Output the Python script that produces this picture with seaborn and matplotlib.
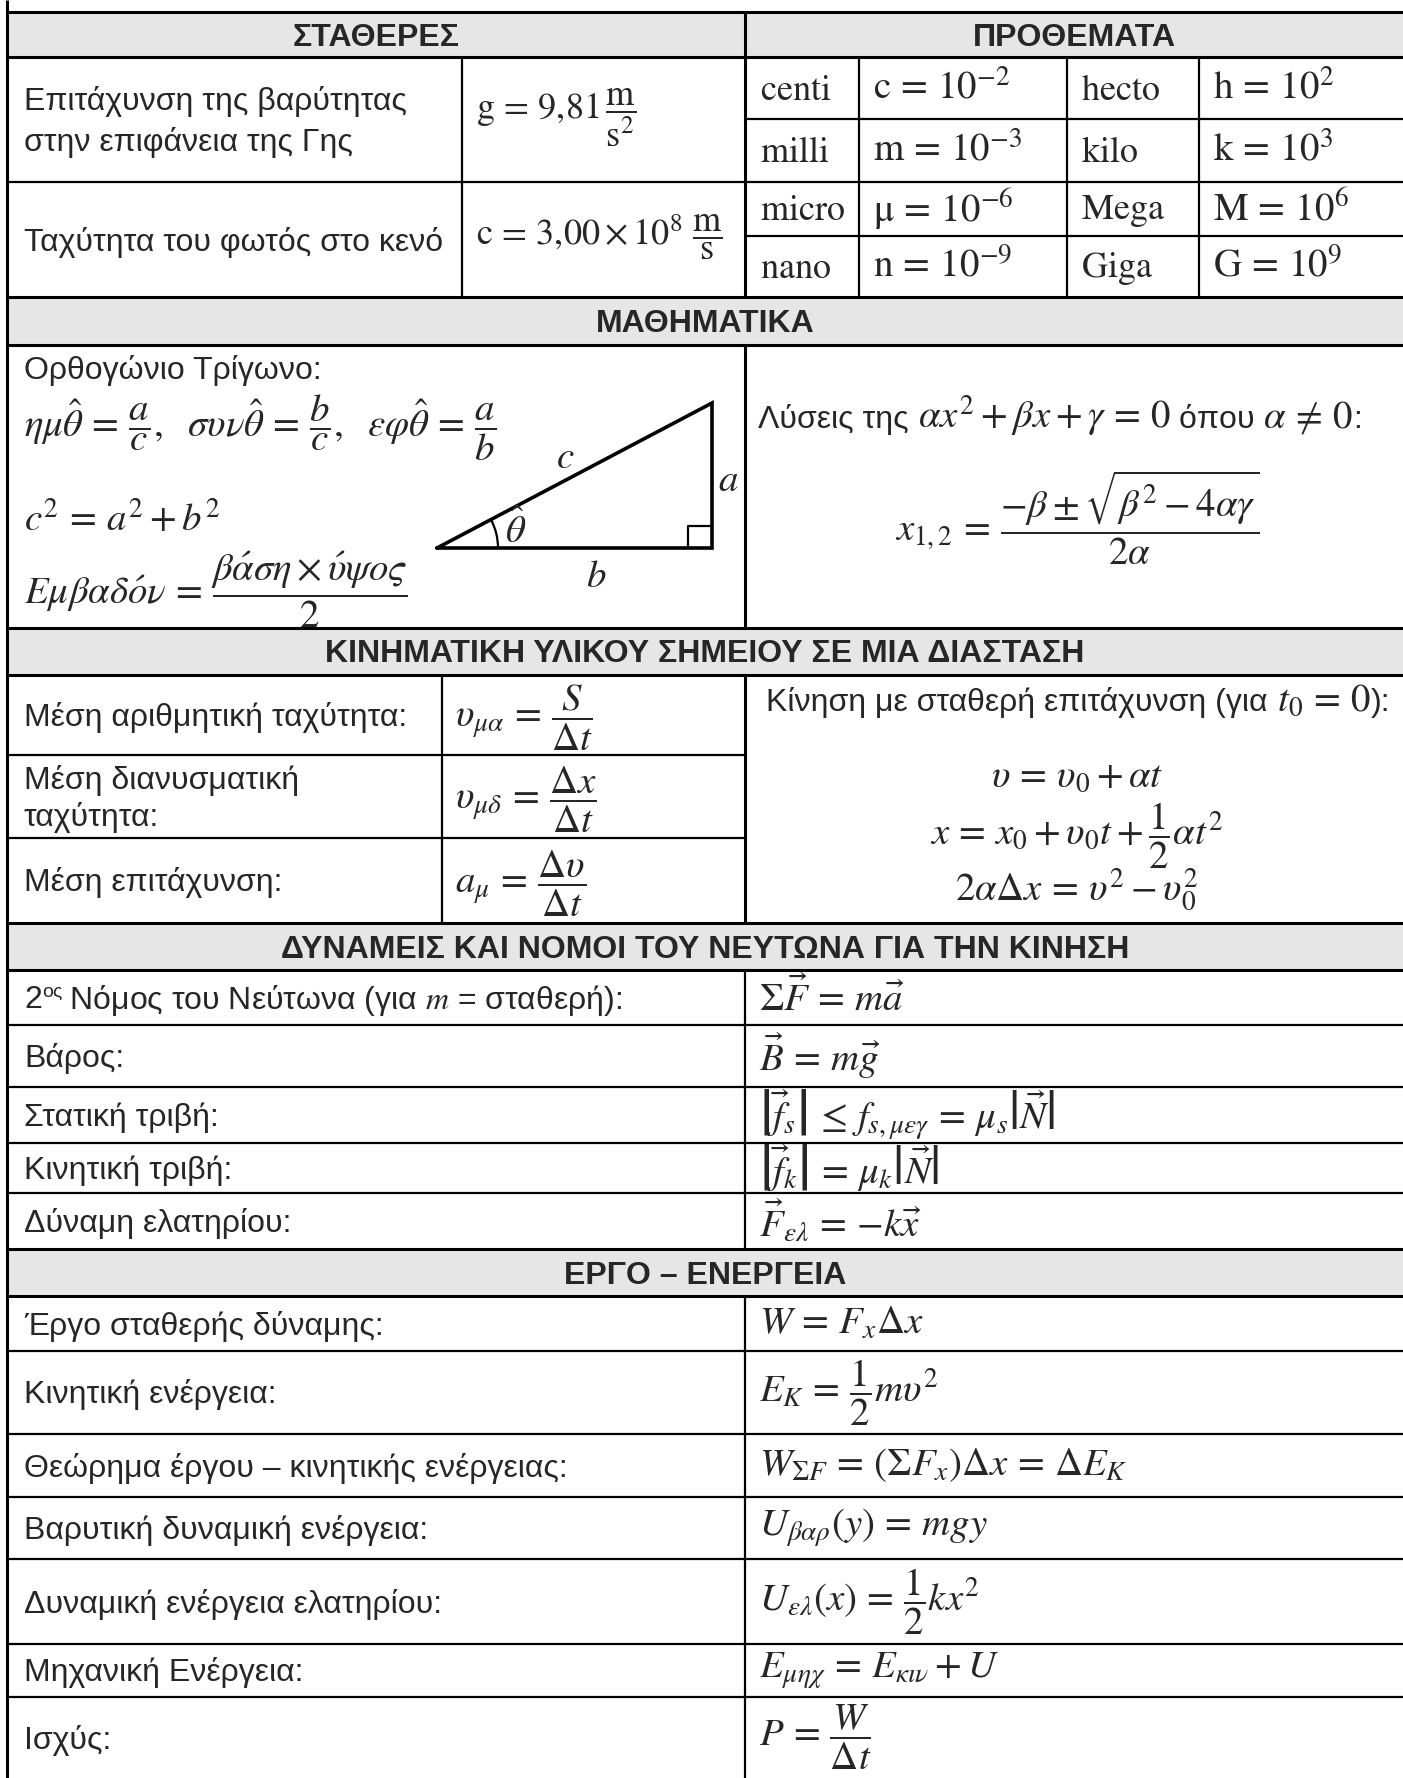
import matplotlib
matplotlib.use('Agg')
import matplotlib.pyplot as plt
from matplotlib.patches import Arc
import seaborn as sns

sns.set_theme(style='white')
plt.rcParams['font.family'] = ['Liberation Sans', 'DejaVu Sans']
plt.rcParams['mathtext.fontset'] = 'stix'

# ---- content of the sheet ----
const_title = 'ΣΤΑΘΕΡΕΣ'
prefix_title = 'ΠΡΟΘΕΜΑΤΑ'
math_title = 'ΜΑΘΗΜΑΤΙΚΑ'
kin_title = 'ΚΙΝΗΜΑΤΙΚΗ ΥΛΙΚΟΥ ΣΗΜΕΙΟΥ ΣΕ ΜΙΑ ΔΙΑΣΤΑΣΗ'
dyn_title = 'ΔΥΝΑΜΕΙΣ ΚΑΙ ΝΟΜΟΙ ΤΟΥ ΝΕΥΤΩΝΑ ΓΙΑ ΤΗΝ ΚΙΝΗΣΗ'
energy_title = 'ΕΡΓΟ – ΕΝΕΡΓΕΙΑ'

const_labels = ['Επιτάχυνση της βαρύτητας\nστην επιφάνεια της Γης',
                'Ταχύτητα του φωτός στο κενό']
const_values = [r'$\mathrm{g} = 9{,}81\,\dfrac{\mathrm{m}}{\mathrm{s}^2}$',
                r'$\mathrm{c} = 3{,}00 \times 10^8\ \dfrac{\mathrm{m}}{\mathrm{s}}$']

prefix_small = ['centi', 'milli', 'micro', 'nano']
prefix_small_sym = ['c', 'm', r'\mu', 'n']
prefix_small_exp = [-2, -3, -6, -9]
prefix_big = ['hecto', 'kilo', 'Mega', 'Giga']
prefix_big_sym = ['h', 'k', 'M', 'G']
prefix_big_exp = [2, 3, 6, 9]

trig_title = 'Ορθογώνιο Τρίγωνο:'
trig_ratios = (r'$\eta\mu\hat{\theta} = \dfrac{a}{c},\ \ \sigma\upsilon\nu\hat{\theta} = \dfrac{b}{c},'
               r'\ \ \varepsilon\varphi\hat{\theta} = \dfrac{a}{b}$')
pythagoras = r'$c^2 = a^2 + b^2$'
area = (r'$E\mu\beta\alpha\delta\acute{o}\nu = '
        r'\dfrac{\beta\acute{\alpha}\sigma\eta \times \acute{\upsilon}\psi o\varsigma}{2}$')
side_labels = [r'$c$', r'$a$', r'$b$', r'$\hat{\theta}$']
quad_title = ['Λύσεις της', r'$\ \alpha x^2 + \beta x + \gamma = 0$', r'$\ $όπου',
              r'$\ \alpha \neq 0$', ':']
quad_roots = r'$x_{1,2} = \dfrac{-\beta \pm \sqrt{\beta^2 - 4\alpha\gamma}}{2\alpha}$'

kin_labels = ['Μέση αριθμητική ταχύτητα:', 'Μέση διανυσματική\nταχύτητα:', 'Μέση επιτάχυνση:']
kin_formulas = [r'$\upsilon_{\mu\alpha} = \dfrac{S}{\Delta t}$',
                r'$\upsilon_{\mu\delta} = \dfrac{\Delta x}{\Delta t}$',
                r'$a_{\mu} = \dfrac{\Delta \upsilon}{\Delta t}$']
accel_title = ['Κίνηση με σταθερή επιτάχυνση (για', r'$\ t_0 = 0$', '):']
accel_eqs = [r'$\upsilon = \upsilon_0 + \alpha t$',
             r'$x = x_0 + \upsilon_0 t + \dfrac{1}{2}\alpha t^2$',
             r'$2\alpha\Delta x = \upsilon^2 - \upsilon_0^2$']

newton_label = ['2', 'ος', r'$\ $Νόμος του Νεύτωνα (για $m$ = σταθερή):']
dyn_labels = ['Βάρος:', 'Στατική τριβή:', 'Κινητική τριβή:', 'Δύναμη ελατηρίου:']
dyn_formulas = [r'$\Sigma\vec{F} = m\vec{a}$',
                r'$\vec{B} = m\vec{g}$',
                r'$\left|\vec{f}_s\right| \leq f_{s,\mu\varepsilon\gamma} = \mu_s\left|\vec{N}\right|$',
                r'$\left|\vec{f}_k\right| = \mu_k\left|\vec{N}\right|$',
                r'$\vec{F}_{\varepsilon\lambda} = {-k}\vec{x}$']

energy_labels = ['Έργο σταθερής δύναμης:', 'Κινητική ενέργεια:',
                 'Θεώρημα έργου – κινητικής ενέργειας:', 'Βαρυτική δυναμική ενέργεια:',
                 'Δυναμική ενέργεια ελατηρίου:', 'Μηχανική Ενέργεια:', 'Ισχύς:']
energy_formulas = [r'$W = F_x\Delta x$',
                   r'$E_K = \dfrac{1}{2}m\upsilon^2$',
                   r'$W_{\Sigma F} = (\Sigma F_x)\Delta x = \Delta E_K$',
                   r'$U_{\beta\alpha\rho}(y) = mgy$',
                   r'$U_{\varepsilon\lambda}(x) = \dfrac{1}{2}kx^2$',
                   r'$E_{\mu\eta\chi} = E_{\kappa\iota\nu} + U$',
                   r'$P = \dfrac{W}{\Delta t}$']

# ---- layout (pixels of the page) ----
W, H = 1403, 1778
LEFT, RIGHT, MID = 7, 1403, 745
GREY = '#e6e6e6'
FS = 23      # body text
FM = 28      # formulas
FP = 26      # prefix names and constants
CAP = 11     # half cap height, for baseline placement

fig = plt.figure(figsize=(W / 100, H / 100), dpi=100)
ax = fig.add_axes([0, 0, 1, 1])
ax.set_xlim(0, W)
ax.set_ylim(H, 0)
ax.axis('off')


def sp(s):
    # a little more air round the relations, only inside pure formulas
    if not (s.startswith('$') and s.endswith('$')):
        return s
    for rel in ['=', r'\leq', r'\neq']:
        s = s.replace(' ' + rel + ' ', r'\,' + rel + r'\,')
    return s


def formula(x, y, s, ha='left', fs=FM):
    return ax.text(x, y, sp(s), ha=ha, va='center', fontsize=fs)


def header(y0, y1, title, x0=LEFT, x1=RIGHT):
    ax.fill_between([x0, x1], y0, y1, color=GREY, lw=0, zorder=0)
    ax.text((x0 + x1) / 2, (y0 + y1) / 2 + CAP, title, ha='center', va='baseline',
            fontsize=FS, fontweight='bold')


def label(x, yc, s, gap=37):
    lines = s.split('\n')
    off = -(len(lines) - 1) * gap / 2
    for i, ln in enumerate(lines):
        ax.text(x, yc + off + i * gap + CAP, ln, ha='left', va='baseline', fontsize=FS)


def mixed(x, yb, parts, sizes, lifts=None):
    # chain text pieces along one baseline, each with its own size
    lifts = lifts or [0] * len(parts)
    prev = ax.text(x, yb + lifts[0], sp(parts[0]), ha='left', va='baseline', fontsize=sizes[0])
    for s, fs, dy in zip(parts[1:], sizes[1:], lifts[1:]):
        prev = ax.annotate(sp(s), xy=(1, yb + dy), xycoords=(prev, 'data'),
                           ha='left', va='baseline', fontsize=fs)


thick, thin = 2.2, 1.6
# horizontal rules: (y, x0, x1, lw)
hrules = [(12, LEFT, RIGHT, thick), (57, LEFT, RIGHT, thick), (119, MID, RIGHT, thin),
          (182, LEFT, RIGHT, thin), (236, MID, RIGHT, thin), (297, LEFT, RIGHT, thick),
          (345, LEFT, RIGHT, thick), (628, LEFT, RIGHT, thick), (675, LEFT, RIGHT, thick),
          (755, LEFT, MID, thin), (838, LEFT, MID, thin), (923, LEFT, RIGHT, thick),
          (970, LEFT, RIGHT, thick), (1249, LEFT, RIGHT, thick), (1296, LEFT, RIGHT, thick)]
dyn_rows = [970, 1025, 1087, 1143, 1193, 1249]
en_rows = [1296, 1351, 1434, 1497, 1559, 1644, 1697, 1778]
for y in dyn_rows[1:-1] + en_rows[1:-1]:
    hrules.append((y, LEFT, RIGHT, thin))
for y, x0, x1, lw in hrules:
    ax.hlines(y, x0, x1, color='black', lw=lw)

# vertical rules: (x, y0, y1, lw)
vrules = [(LEFT, 0, H, thick), (MID, 12, 297, thick), (462, 57, 297, thin),
          (859, 57, 297, thin), (1067, 57, 297, thin), (1199, 57, 297, thin),
          (MID, 345, 628, thick), (442, 675, 923, thin), (MID, 675, 923, thick),
          (MID, 970, 1249, thin), (MID, 1296, H, thin)]
for x, y0, y1, lw in vrules:
    ax.vlines(x, y0, y1, color='black', lw=lw)

# ---- constants & prefixes ----
header(12, 57, const_title, LEFT, MID)
header(12, 57, prefix_title, MID, RIGHT)
const_rows = [57, 182, 297]
for i in range(2):
    yc = (const_rows[i] + const_rows[i + 1]) / 2
    label(24, yc, const_labels[i], gap=41)
    formula(476, yc - 2, const_values[i], fs=FP)

prefix_rows = [57, 119, 182, 236, 297]
for i in range(4):
    yc = (prefix_rows[i] + prefix_rows[i + 1]) / 2
    ax.text(760, yc + 2, r'$\mathrm{%s}$' % prefix_small[i], ha='left', va='center', fontsize=FP)
    formula(873, yc, r'$\mathrm{%s} = 10^{%d}$' % (prefix_small_sym[i], prefix_small_exp[i]))
    ax.text(1081, yc + 2, r'$\mathrm{%s}$' % prefix_big[i], ha='left', va='center', fontsize=FP)
    formula(1213, yc, r'$\mathrm{%s} = 10^{%d}$' % (prefix_big_sym[i], prefix_big_exp[i]))

# ---- mathematics ----
header(297, 345, math_title)
ax.text(24, 368 + CAP, trig_title, ha='left', va='baseline', fontsize=FS)
formula(24, 428, trig_ratios)
formula(24, 520, pythagoras)
formula(24, 590, area)

tri_x = [437, 712, 712, 437]
tri_y = [548, 548, 403, 548]
ax.plot(tri_x, tri_y, color='black', lw=2.6, solid_joinstyle='miter')
ax.plot([688, 688, 712], [548, 526, 526], color='black', lw=1.6)
ax.add_patch(Arc((437, 548), 122, 122, theta1=-27.8, theta2=0, color='black', lw=1.6))
for s, (x, y) in zip(side_labels, [(565, 458), (728, 481), (596, 577), (516, 530)]):
    ax.text(x, y, s, ha='center', va='center', fontsize=FM)

mixed(758, 428, quad_title, [FS, FM, FS, FM, FS])
formula(1077, 518, quad_roots, ha='center')

# ---- kinematics ----
header(628, 675, kin_title)
kin_rows = [675, 755, 838, 923]
for i in range(3):
    yc = (kin_rows[i] + kin_rows[i + 1]) / 2
    label(24, yc, kin_labels[i])
    formula(455, yc + 3, kin_formulas[i])
mixed(766, 711, accel_title, [FS, FM, FS])
for s, y in zip(accel_eqs, [777, 836, 890]):
    formula(1077, y, s, ha='center')

# ---- forces ----
header(923, 970, dyn_title)
for i in range(5):
    yc = (dyn_rows[i] + dyn_rows[i + 1]) / 2
    formula(759, yc, dyn_formulas[i])
    if i == 0:
        mixed(24, yc + CAP, newton_label, [FS, 14, FS], [0, -12, 0])
    else:
        label(24, yc, dyn_labels[i - 1])

# ---- work & energy ----
header(1249, 1296, energy_title)
for i in range(7):
    yc = (en_rows[i] + en_rows[i + 1]) / 2
    label(24, yc, energy_labels[i])
    formula(759, yc, energy_formulas[i])

fig.savefig('out.png', dpi=100, facecolor='white')
